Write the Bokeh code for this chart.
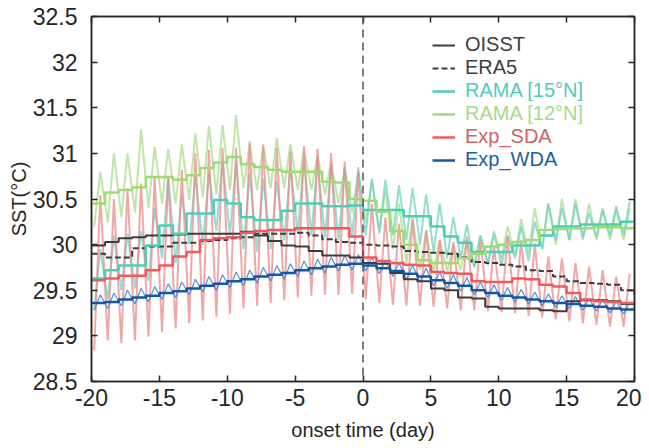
from bokeh.plotting import figure
from bokeh.models import (Span, Legend, LegendItem, FixedTicker, LinearAxis,
                          NumeralTickFormatter, Range1d, CustomLabelingPolicy, Title)
from bokeh.embed import file_html
from bokeh.resources import INLINE

# ---------------- data ----------------
days = list(range(-20, 21))  # daily steps, -20 .. 20

oisst = [29.99, 30.03, 30.07, 30.08, 30.10, 30.10, 30.11, 30.12, 30.12, 30.12,
         30.12, 30.14, 30.10, 30.04, 29.99, 29.98, 29.93, 29.88, 29.88, 29.86,
         29.80, 29.79, 29.69, 29.62, 29.60, 29.52, 29.50, 29.42, 29.41, 29.32,
         29.30, 29.30, 29.30, 29.28, 29.27, 29.38, 29.39, 29.39, 29.38, 29.35, 29.34]

era5 = [29.90, 29.86, 29.86, 29.96, 29.98, 29.98, 30.02, 30.02, 30.04, 30.05,
        30.07, 30.08, 30.12, 30.12, 30.12, 30.13, 30.10, 30.06, 30.03, 30.02,
        30.00, 29.99, 29.98, 29.93, 29.92, 29.91, 29.90, 29.86, 29.81, 29.80,
        29.78, 29.76, 29.72, 29.71, 29.65, 29.60, 29.58, 29.57, 29.56, 29.50, 29.45]

rama15 = [29.63, 29.72, 29.77, 29.77, 29.99, 30.21, 30.12, 30.34, 30.34, 30.49,
          30.45, 30.30, 30.27, 30.27, 30.37, 30.45, 30.45, 30.42, 30.42, 30.43,
          30.38, 30.38, 30.38, 30.31, 30.31, 30.20, 30.09, 30.02, 29.92, 29.92,
          29.92, 29.99, 29.99, 30.10, 30.20, 30.20, 30.22, 30.22, 30.22, 30.25, 30.25]

rama12 = [30.45, 30.57, 30.60, 30.63, 30.74, 30.74, 30.71, 30.76, 30.84, 30.90,
          30.96, 30.88, 30.85, 30.82, 30.80, 30.80, 30.80, 30.69, 30.68, 30.50,
          30.48, 30.36, 30.15, 30.00, 29.83, 29.80, 29.80, 29.85, 29.90, 29.98,
          30.00, 30.03, 30.05, 30.16, 30.17, 30.18, 30.18, 30.19, 30.19, 30.18, 30.18]

exp_sda = [29.61, 29.63, 29.66, 29.66, 29.72, 29.77, 29.87, 29.92, 30.05, 30.07,
           30.08, 30.13, 30.15, 30.16, 30.16, 30.18, 30.18, 30.18, 30.18, 30.09,
           29.86, 29.82, 29.80, 29.78, 29.77, 29.70, 29.69, 29.68, 29.60, 29.59,
           29.59, 29.63, 29.62, 29.56, 29.54, 29.47, 29.40, 29.38, 29.37, 29.36, 29.35]

exp_wda = [29.36, 29.37, 29.40, 29.42, 29.44, 29.47, 29.49, 29.52, 29.55, 29.57,
           29.60, 29.62, 29.65, 29.67, 29.69, 29.72, 29.74, 29.76, 29.78, 29.79,
           29.77, 29.74, 29.71, 29.68, 29.65, 29.61, 29.58, 29.55, 29.50, 29.47,
           29.44, 29.42, 29.40, 29.38, 29.36, 29.35, 29.33, 29.32, 29.30, 29.29, 29.28]

# daily maxima / minima of the hourly curves (days -20 .. 19)
sda_peak = [30.54, 30.50, 30.62, 30.67, 30.74, 30.74, 30.82, 31.00, 31.04, 31.06,
            31.06, 31.13, 31.10, 31.06, 31.02, 31.08, 31.05, 31.00, 30.91, 30.80,
            30.45, 30.30, 30.23, 30.27, 30.16, 30.05, 30.03, 30.09, 30.05, 29.98,
            30.09, 30.05, 30.01, 29.87, 29.85, 29.80, 29.76, 29.72, 29.65, 29.68]
sda_trough = [28.84, 28.95, 28.92, 28.95, 28.99, 29.04, 29.08, 29.14, 29.17, 29.21,
              29.24, 29.30, 29.33, 29.36, 29.39, 29.42, 29.44, 29.45, 29.45, 29.46,
              29.40, 29.36, 29.34, 29.33, 29.33, 29.32, 29.30, 29.28, 29.28, 29.27,
              29.26, 29.25, 29.22, 29.20, 29.18, 29.16, 29.14, 29.12, 29.10, 29.10]

wda_peak = [29.45, 29.47, 29.50, 29.52, 29.54, 29.57, 29.59, 29.62, 29.65, 29.67,
            29.70, 29.72, 29.75, 29.77, 29.79, 29.82, 29.84, 29.86, 29.88, 29.89,
            29.86, 29.83, 29.80, 29.77, 29.74, 29.70, 29.67, 29.64, 29.59, 29.56,
            29.53, 29.51, 29.48, 29.46, 29.44, 29.43, 29.41, 29.40, 29.38, 29.37]
wda_trough = [29.28, 29.30, 29.33, 29.35, 29.37, 29.40, 29.42, 29.45, 29.48, 29.50,
              29.53, 29.55, 29.58, 29.60, 29.62, 29.65, 29.67, 29.69, 29.71, 29.72,
              29.71, 29.68, 29.65, 29.62, 29.59, 29.55, 29.52, 29.49, 29.45, 29.42,
              29.39, 29.37, 29.35, 29.33, 29.31, 29.30, 29.28, 29.27, 29.25, 29.24]

r15_peak = [29.95, 30.10, 30.12, 30.15, 30.40, 30.74, 30.55, 30.75, 30.78, 30.93,
            30.90, 30.78, 30.72, 30.70, 30.85, 30.95, 30.92, 30.88, 30.85, 30.85,
            30.72, 30.71, 30.65, 30.62, 30.55, 30.45, 30.30, 30.22, 30.10, 30.12,
            30.10, 30.20, 30.25, 30.45, 30.40, 30.45, 30.35, 30.38, 30.42, 30.47]
r15_trough = [29.28, 29.40, 29.50, 29.52, 29.60, 29.85, 29.80, 30.00, 30.00, 30.15,
              30.10, 29.95, 29.92, 29.95, 30.05, 30.12, 30.10, 30.08, 30.05, 30.08,
              30.10, 30.12, 30.10, 30.05, 30.00, 29.92, 29.85, 29.85, 29.76, 29.78,
              29.78, 29.85, 29.82, 29.95, 30.05, 30.05, 30.08, 30.08, 30.10, 30.10]

r12_peak = [30.80, 31.00, 31.00, 31.26, 31.07, 31.05, 31.10, 31.22, 31.30, 31.31,
            31.42, 31.10, 31.08, 31.17, 31.10, 31.05, 30.98, 30.90, 30.82, 30.78,
            30.71, 30.60, 30.45, 30.30, 30.15, 30.05, 30.00, 30.05, 30.10, 30.15,
            30.20, 30.28, 30.40, 30.45, 30.50, 30.50, 30.45, 30.40, 30.38, 30.40]
r12_trough = [30.20, 30.24, 30.30, 30.35, 30.40, 30.45, 30.45, 30.49, 30.52, 30.55,
              30.60, 30.62, 30.60, 30.62, 30.62, 30.60, 30.60, 30.55, 30.45, 30.35,
              30.25, 30.15, 29.95, 29.80, 29.72, 29.70, 29.70, 29.72, 29.75, 29.80,
              29.85, 29.88, 29.90, 29.95, 30.00, 30.05, 30.05, 30.05, 30.05, 30.05]

x_ticks = [-20, -15, -10, -5, 0, 5, 10, 15, 20]
y_ticks = [28.5, 29, 29.5, 30, 30.5, 31, 31.5, 32, 32.5]

# ---------------- helpers ----------------
FONT = "Liberation Sans"
AX = "#262626"
TROUGH_PHASE = 0.2
PEAK_PHASE = 0.65


def diurnal(peaks, troughs):
    xs, ys = [], []
    for d, pk, tr in zip(days[:-1], peaks, troughs):
        xs += [d + TROUGH_PHASE, d + PEAK_PHASE]
        ys += [tr, pk]
    return xs, ys


p = figure(width=641, height=448, output_backend="svg", toolbar_location=None,
           x_range=Range1d(-20, 20), y_range=Range1d(28.5, 32.5),
           min_border_left=91, min_border_right=7, min_border_top=16,
           min_border_bottom=67)
p.grid.visible = False
p.outline_line_color = AX
p.outline_line_width = 1.5
p.background_fill_color = "white"

# hourly (light) curves
xs, ys = diurnal(r12_peak, r12_trough)
p.line(xs, ys, color="#a9dc8c", alpha=0.75, line_width=2)
xs, ys = diurnal(r15_peak, r15_trough)
p.line(xs, ys, color="#6fd3c2", alpha=0.75, line_width=2)
xs, ys = diurnal(sda_peak, sda_trough)
p.line(xs, ys, color="#ee8a8a", alpha=0.75, line_width=2)
xs, ys = diurnal(wda_peak, wda_trough)
p.line(xs, ys, color="#3d86da", alpha=0.9, line_width=1.2)

# daily means (steps)
r_oi = p.step(days, oisst, mode="after", color="#3c3c3c", line_width=2)
r_er = p.step(days, era5, mode="after", color="#3c3c3c", line_width=2, line_dash="6 3")
r_15 = p.step(days, rama15, mode="after", color="#4ecdb6", line_width=2.5)
r_12 = p.step(days, rama12, mode="after", color="#a0da72", line_width=2.5)
r_sd = p.step(days, exp_sda, mode="after", color="#f05a5e", line_width=2.5)
r_wd = p.step(days, exp_wda, mode="after", color="#1256a8", line_width=2.5)

p.add_layout(Span(location=0, dimension="height", line_color="#555555",
                  line_width=1.5, line_dash="8 5"))

# axes
for ax in (p.xaxis[0], p.yaxis[0]):
    ax.axis_line_color = AX
    ax.axis_line_width = 1.5
    ax.major_tick_line_color = AX
    ax.major_tick_line_width = 1.5
    ax.major_tick_in = 6
    ax.major_tick_out = 0
    ax.minor_tick_line_color = None
    ax.major_label_text_font = FONT
    ax.major_label_text_font_size = "23px"
    ax.major_label_text_color = AX
    ax.axis_label_text_font = FONT
    ax.axis_label_text_font_size = "20px"
    ax.axis_label_text_font_style = "normal"
    ax.axis_label_text_color = AX

p.xaxis[0].ticker = FixedTicker(ticks=x_ticks)
p.yaxis[0].ticker = FixedTicker(ticks=y_ticks)
p.xaxis[0].formatter = NumeralTickFormatter(format="0")
p.yaxis[0].formatter = NumeralTickFormatter(format="0.[0]")
p.xaxis[0].axis_label = "onset time (day)"
p.xaxis[0].major_label_standoff = 7
p.yaxis[0].major_label_standoff = 14
p.xaxis[0].axis_label_standoff = 10

# y-axis title, a little above the axis centre as in the reference
p.add_layout(Title(text="SST(°C)", align="center", offset=28, standoff=0,
                   text_font=FONT, text_font_size="20px", text_font_style="normal",
                   text_color=AX), "left")

no_labels = CustomLabelingPolicy(code="""
const all = Array.from(indices)
for (const i of all) indices.unset(i)
return indices
""")

top = LinearAxis(ticker=FixedTicker(ticks=x_ticks), major_label_policy=no_labels,
                 major_label_text_font_size="0px",
                 major_tick_in=6, major_tick_out=0, minor_tick_line_color=None,
                 axis_line_color=AX, axis_line_width=1.5, major_tick_line_color=AX,
                 major_tick_line_width=1.5, major_label_standoff=0)
right = LinearAxis(ticker=FixedTicker(ticks=y_ticks), major_label_policy=no_labels,
                   major_label_text_font_size="0px",
                   major_tick_in=6, major_tick_out=0, minor_tick_line_color=None,
                   axis_line_color=AX, axis_line_width=1.5, major_tick_line_color=AX,
                   major_tick_line_width=1.5, major_label_standoff=0)
p.add_layout(top, "above")
p.add_layout(right, "right")

# legend: one per entry so each label gets its own colour
entries = [("OISST", r_oi, "#404040"), ("ERA5", r_er, "#404040"),
           ("RAMA [15°N]", r_15, "#52cbb8"), ("RAMA [12°N]", r_12, "#a3dc85"),
           ("Exp_SDA", r_sd, "#cf6464"), ("Exp_WDA", r_wd, "#1c5ea8")]
for i, (lab, rend, col) in enumerate(entries):
    leg = Legend(items=[LegendItem(label=lab, renderers=[rend])],
                 location=(341, 325 - 23 * i),
                 label_text_color=col, label_text_font=FONT,
                 label_text_font_size="20px", glyph_width=23, glyph_height=20,
                 label_height=20, label_standoff=10, padding=0, margin=0,
                 border_line_color=None, background_fill_alpha=0)
    p.add_layout(leg)

open("out.html", "w").write(file_html(p, INLINE))
